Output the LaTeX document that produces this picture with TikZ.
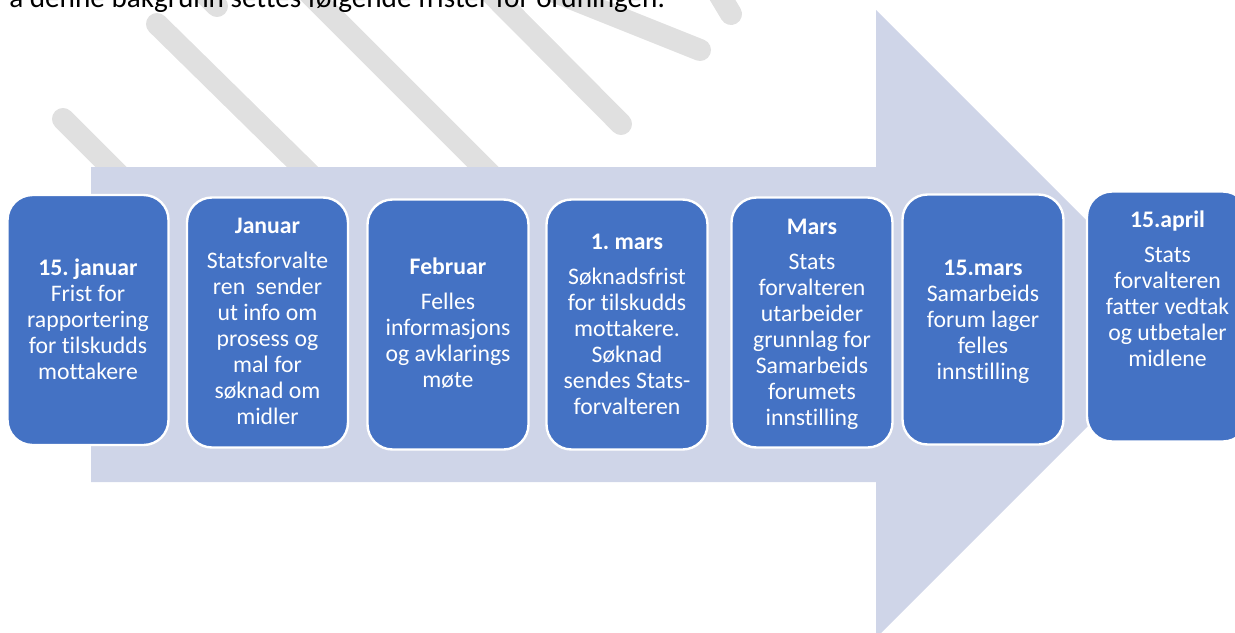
\documentclass[tikz,border=0pt]{standalone}
\usepackage{fontspec}
\setmainfont{Carlito}[Ligatures={NoCommon}]
\frenchspacing
\definecolor{stripegrey}{RGB}{224,224,224}
\definecolor{arrowfill}{RGB}{207,213,232}
\definecolor{boxblue}{RGB}{68,114,196}
\begin{document}
\begin{tikzpicture}[x=0.75pt,y=-0.75pt,
  stripe/.style={draw=stripegrey, line width=16.5pt, line cap=round},
  box/.style={draw=white, line width=1.8pt, fill=boxblue, rounded corners=18.75pt,
    minimum width=120.75pt, minimum height=187.5pt, inner sep=0pt},
  boxtext/.style={text=white, align=center, inner sep=0pt,
    font=\fontsize{17.8}{19.5}\selectfont\frenchspacing},
  intro/.style={text=black, inner sep=0pt, anchor=base west,
    font=\fontsize{21.9}{26}\selectfont}]
\useasboundingbox (0,0) rectangle (1235,632);
\clip (0,0) rectangle (1235,632);
% watermark stripes
\draw[stripe] (63,119) -- (160,216);
\draw[stripe] (157,24) -- (330,194);
\draw[stripe] (190,-21) -- (217,6);
\draw[stripe] (290,-26) -- (510,194);
\draw[stripe] (470,-28) -- (621,124);
\draw[stripe] (525,-20) -- (700,50);
\draw[stripe] (713,-16) -- (731,14);
% big arrow
\fill[arrowfill] (91,167) -- (876,167) -- (876,10) -- (1190,324) -- (876,638)
  -- (876,482) -- (91,482) -- cycle;
% boxes
\node[box] (b1) at (88,320) {};
\node[box] (b2) at (267.5,322.5) {};
\node[box] (b3) at (448,324.5) {};
\node[box] (b4) at (627,324.5) {};
\node[box] (b5) at (812,322.5) {};
\node[box] (b6) at (983,319.5) {};
\node[box] (b7) at (1167.5,316.5) {};
% texts
\node[boxtext] (t1) at (88,319.5) {\textbf{15. januar}\\Frist for\\rapportering\\for tilskudds\\mottakere};
\node[boxtext] (t2) at (267.5,321) {\textbf{Januar}\\[6.75pt]Statsforvalte\\ren\ \ sender\\ut info om\\prosess og\\mal for\\søknad om\\midler};
\node[boxtext] (t3) at (448,323.5) {\textbf{Februar}\\[6.75pt]Felles\\informasjons\\og avklarings\\møte};
\node[boxtext] (t4) at (627,324) {\textbf{1. mars}\\[6.75pt]Søknadsfrist\\for tilskudds\\mottakere.\\Søknad\\sendes Stats-\\forvalteren};
\node[boxtext] (t5) at (812,324.5) {\textbf{Mars}\\[6.75pt]Stats\\forvalteren\\utarbeider\\grunnlag for\\Samarbeids\\forumets\\innstilling};
\node[boxtext] (t6) at (983,321.5) {\textbf{15.mars}\\Samarbeids\\forum lager\\felles\\innstilling};
\node[boxtext] (t7) at (1167.5,289) {\textbf{15.april}\\[6.75pt]Stats\\forvalteren\\fatter vedtak\\og utbetaler\\midlene};
% intro sentence (cut at top)
\node[intro] (intro) at (9,7) {å denne bakgrunn settes følgende frister for ordningen.};
\end{tikzpicture}
\end{document}
